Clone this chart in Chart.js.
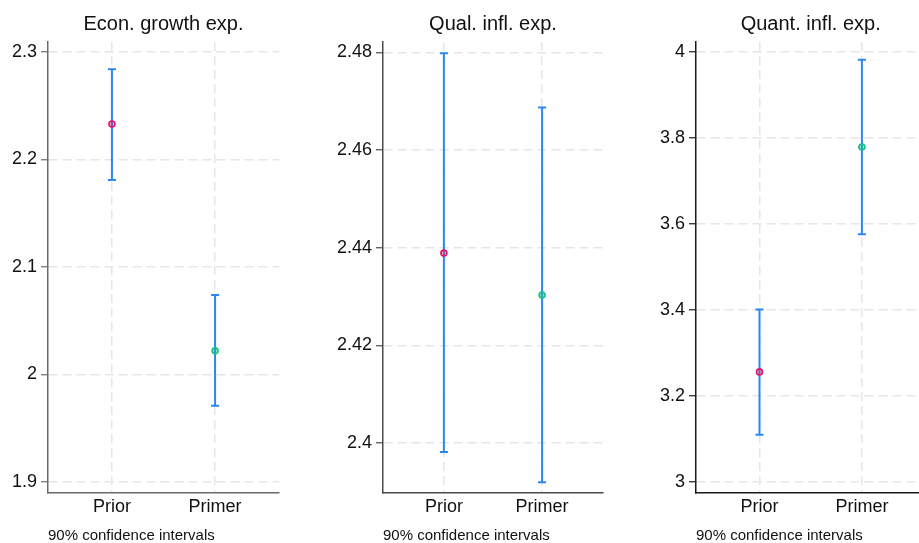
<!DOCTYPE html>
<html>
<head>
<meta charset="utf-8">
<script src="https://cdn.jsdelivr.net/npm/chart.js@4/dist/chart.umd.min.js"></script>
<style>
  html, body { margin: 0; padding: 0; background: #fff; overflow: hidden; width: 919px; height: 543px; }
  .panel { position: absolute; top: 0; height: 543px; }
</style>
</head>
<body>
<div class="panel" style="left:0px;width:300px"><canvas id="c1"></canvas></div>
<div class="panel" style="left:320px;width:300px"><canvas id="c2"></canvas></div>
<div class="panel" style="left:630px;width:300px"><canvas id="c3"></canvas></div>
<script>
// ---- data ----
const categories = ['Prior', 'Primer'];
const note = '90% confidence intervals';

const econTitle = 'Econ. growth exp.';
const econMean = [2.233, 2.022];
const econLo   = [2.181, 1.971];
const econHi   = [2.284, 2.074];
const econTicks = [1.9, 2.0, 2.1, 2.2, 2.3];
const econTickLabels = ['1.9', '2', '2.1', '2.2', '2.3'];

const qualTitle = 'Qual. infl. exp.';
const qualMean = [2.4389, 2.4303];
const qualLo   = [2.3982, 2.3920];
const qualHi   = [2.4798, 2.4687];
const qualTicks = [2.40, 2.42, 2.44, 2.46, 2.48];
const qualTickLabels = ['2.4', '2.42', '2.44', '2.46', '2.48'];

const quantTitle = 'Quant. infl. exp.';
const quantMean = [3.256, 3.779];
const quantLo   = [3.110, 3.576];
const quantHi   = [3.401, 3.982];
const quantTicks = [3.0, 3.2, 3.4, 3.6, 3.8, 4.0];
const quantTickLabels = ['3', '3.2', '3.4', '3.6', '3.8', '4'];

// ---- styling ----
const FONT = '"Liberation Sans", Arial, sans-serif';
const markerBorder = ['#e0146a', '#17c08a'];
const markerFill = ['rgba(224,20,106,0.35)', 'rgba(23,192,138,0.45)'];
const ciColor = '#2c87f2';

const errorBarPlugin = {
  id: 'errorBars',
  beforeDatasetsDraw(chart, args, opts) {
    const ctx = chart.ctx;
    const xs = chart.scales.x, ys = chart.scales.y;
    ctx.save();
    ctx.strokeStyle = ciColor;
    ctx.lineWidth = 2;
    opts.lo.forEach((lo, i) => {
      const hi = opts.hi[i];
      const x = xs.getPixelForValue(i + 1);
      const y1 = ys.getPixelForValue(lo);
      const y2 = ys.getPixelForValue(hi);
      ctx.beginPath();
      ctx.moveTo(x, y1); ctx.lineTo(x, y2);
      ctx.moveTo(x - 4, y1); ctx.lineTo(x + 4, y1);
      ctx.moveTo(x - 4, y2); ctx.lineTo(x + 4, y2);
      ctx.stroke();
    });
    ctx.restore();
  }
};

function makePanel(id, title, mean, lo, hi, ticks, tickLabels, yMin, yMax, axisWidth, padRight, axisColor) {
  const points = mean.map((v, i) => ({ x: i + 1, y: v }));
  return new Chart(document.getElementById(id), {
    type: 'scatter',
    data: {
      datasets: [{
        data: points,
        pointRadius: 3,
        pointHoverRadius: 3,
        pointBorderWidth: 1.6,
        pointBorderColor: markerBorder,
        pointBackgroundColor: markerFill,
        showLine: false
      }]
    },
    plugins: [errorBarPlugin],
    options: {
      responsive: true,
      maintainAspectRatio: false,
      animation: false,
      events: [],
      layout: { padding: { left: 0, right: padRight, top: 0, bottom: 0 } },
      plugins: {
        legend: { display: false },
        tooltip: { enabled: false },
        title: {
          display: true,
          text: title,
          fullSize: false,
          color: '#111',
          font: { family: FONT, size: 20, weight: 'normal', lineHeight: 1.2 },
          padding: { top: 12, bottom: 6 }
        },
        subtitle: {
          display: true,
          text: note,
          position: 'bottom',
          align: 'start',
          fullSize: false,
          color: '#111',
          font: { family: FONT, size: 15, weight: 'normal', lineHeight: 1.0 },
          padding: { top: 11, bottom: 0 }
        },
        errorBars: { lo: lo, hi: hi }
      },
      scales: {
        x: {
          type: 'linear',
          min: 0.38,
          max: 2.62,
          afterBuildTicks: (s) => { s.ticks = categories.map((c, i) => ({ value: i + 1 })); },
          afterFit: (s) => { s.height = 24; },
          ticks: {
            autoSkip: false,
            maxRotation: 0,
            padding: 3,
            color: '#111',
            font: { family: FONT, size: 18 },
            callback: (v) => categories[Math.round(v) - 1]
          },
          grid: {
            color: '#e6e6e6',
            lineWidth: 1.5,
            drawTicks: false
          },
          border: { display: true, color: axisColor, width: 1.5, dash: [9, 5] }
        },
        y: {
          type: 'linear',
          min: yMin,
          max: yMax,
          afterBuildTicks: (s) => { s.ticks = ticks.map(v => ({ value: v })); },
          afterFit: (s) => { s.width = axisWidth; },
          ticks: {
            autoSkip: false,
            padding: 4,
            color: '#111',
            font: { family: FONT, size: 18 },
            callback: (v) => {
              const k = ticks.findIndex(t => Math.abs(t - v) < 1e-9);
              return k >= 0 ? tickLabels[k] : '';
            }
          },
          grid: {
            color: '#e6e6e6',
            lineWidth: 1.5,
            drawTicks: true,
            tickLength: 7,
            tickColor: axisColor,
            tickWidth: 1.2,
            tickBorderDash: []
          },
          border: { display: true, color: axisColor, width: 1.5, dash: [9, 5] }
        }
      }
    }
  });
}

Chart.defaults.font.family = FONT;

makePanel('c1', econTitle, econMean, econLo, econHi, econTicks, econTickLabels,
          1.8898, 2.3093, 48, 21, '#6a6a6a');
makePanel('c2', qualTitle, qualMean, qualLo, qualHi, qualTicks, qualTickLabels,
          2.3898, 2.4821, 63, 17, '#4a4a4a');
makePanel('c3', quantTitle, quantMean, quantLo, quantHi, quantTicks, quantTickLabels,
          2.9744, 4.0233, 66, 2, '#1a1a1a');
</script>
</body>
</html>
